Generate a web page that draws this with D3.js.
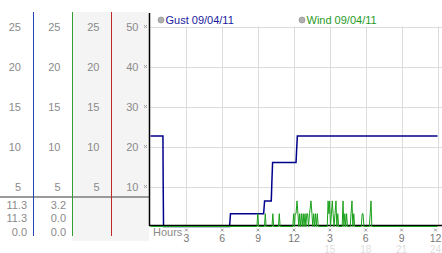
<!DOCTYPE html>
<html><head><meta charset="utf-8">
<script src="https://cdn.jsdelivr.net/npm/d3@7"></script>
<style>
html,body{margin:0;padding:0;background:#fff;}
svg{display:block;font-family:"Liberation Sans",Arial,sans-serif;}
</style></head>
<body><svg id="c" width="442" height="253"></svg>
<script>
// ---- data ----
const leftTicks = [25, 20, 15, 10, 5];
const rightTicks = [50, 40, 30, 20, 10];
const gustStats = ["11.3", "11.3", "0.0"];
const windStats = ["3.2", "0.0", "0.0"];
const hourTicks = [3, 6, 9, 12, 15, 18, 21, 24];
const hourLabels = ["3", "6", "9", "12", "3", "6", "9", "12"];
const hourLabels2 = ["", "", "", "", "15", "18", "21", "24"];
const legendNames = ["Gust 09/04/11", "Wind 09/04/11"];
const gustHours = [0, 1.04, 1.06, 1.09, 6.61, 6.69, 9.46, 9.54, 10.10, 10.15, 10.21, 12.17, 12.22, 12.28, 24];
const gustValues = [11.3, 11.3, 5.6, 0, 0, 1.6, 1.6, 3.2, 3.2, 5.6, 8.0, 8.0, 9.6, 11.3, 11.3];
const windPoints = [
 [0,0],[8.9,0],[8.97,1.6],[9.04,0],
 [9.53,0],[9.6,1.6],[9.67,0],
 [10.16,0],[10.23,1.6],[10.3,0],
 [10.7,0],[10.77,1.6],[10.84,0],
 [11.9,0],[11.97,1.6],[12.04,0],[12.1,1.6],[12.17,1.6],[12.25,3.2],[12.33,1.6],[12.4,0],
 [12.47,1.6],[12.54,0],[12.62,1.6],[12.69,0],[12.77,1.6],[12.84,0],[12.92,1.6],[12.99,0],
 [13.07,1.6],[13.14,1.6],[13.21,0],[13.3,1.6],[13.42,3.2],[13.5,1.6],[13.57,0],
 [13.65,1.6],[13.72,0],[13.8,1.6],[13.87,0],[13.95,1.6],[14.03,0],
 [14.78,0],[14.85,3.2],[14.92,1.6],[14.98,3.2],[15.05,0],[15.13,1.6],[15.2,3.2],[15.27,1.6],
 [15.35,0],[15.43,1.6],[15.51,3.2],[15.58,0],[15.66,1.6],[15.73,0],
 [16.03,0],[16.1,3.2],[16.17,0],[16.25,1.6],[16.32,0],[16.4,1.6],[16.47,0],
 [16.7,0],[16.77,1.6],[16.85,3.2],[16.92,0],[17.0,1.6],[17.07,0],
 [17.62,0],[17.7,1.6],[17.77,1.6],[17.85,0],
 [18.3,0],[18.37,1.6],[18.44,3.2],[18.51,0],
 [24,0]
];

// ---- drawing ----
const svg = d3.select("#c");
const x = d3.scaleLinear().domain([0, 24]).range([150.5, 437.5]);
const y = d3.scaleLinear().domain([0, 25]).range([226.5, 26.5]);
const gray = "#8a8a8a";
const labelX = d => Math.min(x(d), 435.5);
const marker = d3.symbol(d3.symbolX, 6);

// left panel backgrounds
svg.append("rect").attr("x", 72).attr("y", 12).attr("width", 77).attr("height", 229).attr("fill", "#f4f4f4");

// grid
const grid = svg.append("g").attr("stroke", "#dcdcdc").attr("stroke-width", 1);
grid.selectAll("line.h").data(leftTicks).join("line")
  .attr("x1", 150).attr("x2", 442)
  .attr("y1", d => Math.round(y(d)) + 0.5).attr("y2", d => Math.round(y(d)) + 0.5);
grid.selectAll("line.v").data(hourTicks).join("line")
  .attr("x1", d => Math.round(x(d)) + 0.5).attr("x2", d => Math.round(x(d)) + 0.5)
  .attr("y1", y(25)).attr("y2", y(0));

// column labels
const cols = [
  {xr: 21, ticks: leftTicks},
  {xr: 60.5, ticks: leftTicks},
  {xr: 99.5, ticks: leftTicks},
  {xr: 138.5, ticks: rightTicks}
];
cols.forEach(c => {
  svg.append("g").selectAll("text").data(c.ticks).join("text")
    .attr("x", c.xr).attr("y", (d, j) => y(leftTicks[j]) + 4)
    .attr("text-anchor", "end").attr("font-size", 11).attr("fill", gray)
    .text(d => d);
});

// separator
svg.append("line").attr("x1", 0).attr("x2", 149).attr("y1", 197).attr("y2", 197)
  .attr("stroke", "#9a9a9a").attr("stroke-width", 2);

// stats
[[27, gustStats], [66, windStats]].forEach(([xr, arr]) => {
  svg.append("g").selectAll("text").data(arr).join("text")
    .attr("x", xr).attr("y", (d, j) => 209 + j * 13.3)
    .attr("text-anchor", "end").attr("font-size", 11).attr("fill", gray)
    .text(d => d);
});

// column lines
[[33.5, "#2244b0"], [72.5, "#33a033"], [111.5, "#c02828"]].forEach(([lx, col]) => {
  svg.append("line").attr("x1", lx).attr("x2", lx).attr("y1", 12).attr("y2", 236)
    .attr("stroke", col).attr("stroke-width", 1);
});

// y axis tick markers
svg.append("g").selectAll("path").data(leftTicks).join("path")
  .attr("transform", d => `translate(145.5,${y(d)})`).attr("d", marker)
  .attr("fill", "none").attr("stroke", "#999").attr("stroke-width", 1);

// x axis markers and labels
svg.append("g").selectAll("path").data(hourTicks).join("path")
  .attr("transform", d => `translate(${labelX(d)},230)`).attr("d", marker)
  .attr("fill", "none").attr("stroke", "#999").attr("stroke-width", 1);
svg.append("g").selectAll("text").data(hourTicks).join("text")
  .attr("x", d => labelX(d)).attr("y", 241.5).attr("text-anchor", "middle")
  .attr("font-size", 10.5).attr("fill", "#777")
  .text((d, i) => hourLabels[i]);
svg.append("g").selectAll("text").data(hourTicks).join("text")
  .attr("x", d => labelX(d)).attr("y", 252.5).attr("text-anchor", "middle")
  .attr("font-size", 10).attr("fill", "#dedede")
  .text((d, i) => hourLabels2[i]);
svg.append("text").attr("x", 153).attr("y", 235.5).attr("font-size", 11).attr("fill", gray).text("Hours");

// axes lines
svg.append("line").attr("x1", 149.5).attr("x2", 149.5).attr("y1", 13).attr("y2", 226)
  .attr("stroke", "#000").attr("stroke-width", 1.5);

// series
const line = d3.line().x(d => x(d[0])).y(d => y(d[1]));
svg.append("path").datum(gustHours.map((h, i) => [h, gustValues[i]]))
  .attr("d", line).attr("fill", "none").attr("stroke", "#00008b").attr("stroke-width", 1.5);
svg.append("line").attr("x1", 149).attr("x2", 442).attr("y1", 225.5).attr("y2", 225.5)
  .attr("stroke", "#000").attr("stroke-width", 1.5);
svg.append("path").datum(windPoints)
  .attr("d", line).attr("fill", "none").attr("stroke", "#1aa01a").attr("stroke-width", 1);

// legend
const lg = svg.append("g");
[[161, legendNames[0], "#1a1aa0"], [302, legendNames[1], "#1f9a1f"]].forEach(([lx, name, col]) => {
  lg.append("circle").attr("cx", lx).attr("cy", 20).attr("r", 3)
    .attr("fill", "#b0b0b0").attr("stroke", "#909090").attr("stroke-width", 0.7);
  lg.append("text").attr("x", lx + 4.5).attr("y", 24).attr("font-size", 11).attr("fill", col).text(name);
});
</script></body></html>
